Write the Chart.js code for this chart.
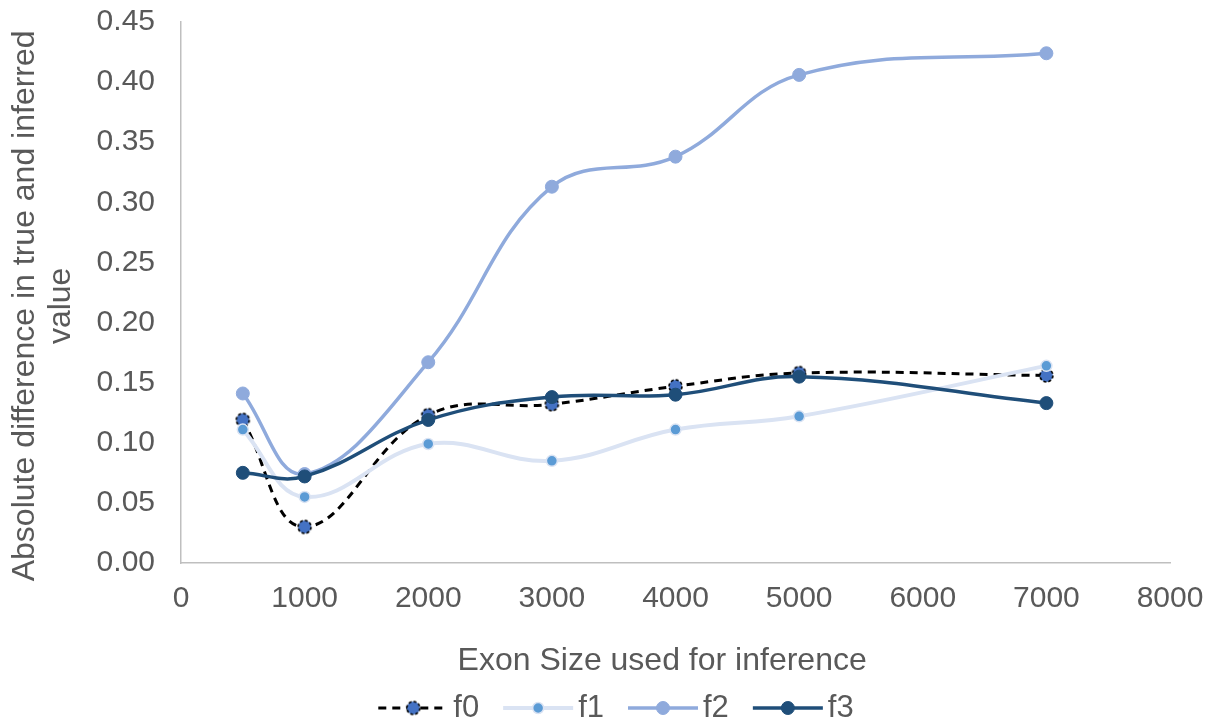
<!DOCTYPE html>
<html>
<head>
<meta charset="utf-8">
<script src="https://cdn.jsdelivr.net/npm/chart.js@4/dist/chart.umd.min.js"></script>
<style>
  html, body { margin: 0; padding: 0; background: #ffffff; }
  #wrap { width: 1216px; height: 723px; }
</style>
</head>
<body>
<div id="wrap"><canvas id="chart" width="1216" height="723"></canvas></div>
<script>
// Exon sizes (x values) shared by every series
const exonSizes = [500, 1000, 2000, 3000, 4000, 5000, 7000];

// Absolute difference between true and inferred value, per feature
const f0 = [0.119, 0.030, 0.123, 0.132, 0.147, 0.158, 0.156];
const f1 = [0.111, 0.055, 0.099, 0.085, 0.111, 0.122, 0.164];
const f2 = [0.141, 0.074, 0.167, 0.313, 0.338, 0.406, 0.424];
const f3 = [0.075, 0.072, 0.119, 0.138, 0.140, 0.155, 0.133];

const seriesNames = ['f0', 'f1', 'f2', 'f3'];

// Axis tick values
const xTickValues = [0, 1000, 2000, 3000, 4000, 5000, 6000, 7000, 8000];
const yTickValues = [0.00, 0.05, 0.10, 0.15, 0.20, 0.25, 0.30, 0.35, 0.40, 0.45];

const TEXT = '#595959';
const FONT = '"Liberation Sans", Arial, Helvetica, sans-serif';

// Round blue marker with a dashed black outline (used by f0)
function dashedMarker(r, fill) {
  const c = document.createElement('canvas');
  const s = Math.ceil(r * 2 + 4);
  c.width = c.height = s;
  const g = c.getContext('2d');
  g.beginPath();
  g.arc(s / 2, s / 2, r, 0, Math.PI * 2);
  g.fillStyle = fill;
  g.fill();
  g.setLineDash([3, 2]);
  g.lineWidth = 1.6;
  g.strokeStyle = '#000000';
  g.stroke();
  return c;
}

function toPoints(values) {
  return values.map((v, i) => ({ x: exonSizes[i], y: v }));
}

const datasets = [
  {
    label: seriesNames[0], data: toPoints(f0),
    borderColor: '#000000', borderWidth: 3, borderDash: [8, 6],
    pointStyle: dashedMarker(6.5, '#4472C4'), pointRadius: 6.5,
    order: 4
  },
  {
    label: seriesNames[1], data: toPoints(f1),
    borderColor: '#DAE3F3', borderWidth: 4,
    pointStyle: 'circle', pointRadius: 5.5,
    pointBackgroundColor: '#5B9BD5', pointBorderColor: '#DAE3F3', pointBorderWidth: 1.5,
    order: 3
  },
  {
    label: seriesNames[2], data: toPoints(f2),
    borderColor: '#8FAADC', borderWidth: 3.5,
    pointStyle: 'circle', pointRadius: 6.5,
    pointBackgroundColor: '#8FAADC', pointBorderColor: '#8FAADC', pointBorderWidth: 1,
    order: 2
  },
  {
    label: seriesNames[3], data: toPoints(f3),
    borderColor: '#1F4E79', borderWidth: 3.5,
    pointStyle: 'circle', pointRadius: 6.5,
    pointBackgroundColor: '#1F4E79', pointBorderColor: '#1F4E79', pointBorderWidth: 1,
    order: 1
  }
];

// Legend drawn below the plot: a line sample with its marker, then the name
const sampleLegend = {
  id: 'sampleLegend',
  afterDraw(chart) {
    const ctx = chart.ctx;
    const sampleW = 70, textGap = 5, itemGap = 24, centerX = 616, y = 708;
    ctx.save();
    ctx.font = '31px ' + FONT;
    const items = chart.data.datasets.map(ds => ({
      ds, w: sampleW + textGap + ctx.measureText(ds.label).width
    }));
    const total = items.reduce((a, it) => a + it.w, 0) + itemGap * (items.length - 1);
    let x = centerX - total / 2;
    items.forEach(({ ds, w }) => {
      ctx.beginPath();
      ctx.setLineDash(ds.borderDash || []);
      ctx.lineWidth = ds.borderWidth;
      ctx.strokeStyle = ds.borderColor;
      ctx.moveTo(x, y);
      ctx.lineTo(x + sampleW, y);
      ctx.stroke();
      ctx.setLineDash([]);
      const mx = x + sampleW / 2;
      if (typeof ds.pointStyle === 'object') {
        const img = ds.pointStyle;
        ctx.drawImage(img, mx - img.width / 2, y - img.height / 2);
      } else {
        ctx.beginPath();
        ctx.arc(mx, y, ds.pointRadius, 0, Math.PI * 2);
        ctx.fillStyle = ds.pointBackgroundColor;
        ctx.fill();
        ctx.lineWidth = ds.pointBorderWidth;
        ctx.strokeStyle = ds.pointBorderColor;
        ctx.stroke();
      }
      ctx.fillStyle = TEXT;
      ctx.textAlign = 'left';
      ctx.textBaseline = 'middle';
      ctx.fillText(ds.label, x + sampleW + textGap, y);
      x += w + itemGap;
    });
    ctx.restore();
  }
};

new Chart(document.getElementById('chart'), {
  type: 'line',
  data: { datasets },
  plugins: [sampleLegend],
  options: {
    responsive: false,
    animation: false,
    devicePixelRatio: 1,
    layout: { padding: { top: 0, right: 46, left: 0, bottom: 0 } },
    elements: {
      line: { tension: 0.4, cubicInterpolationMode: 'default', fill: false }
    },
    plugins: {
      legend: { display: false },
      tooltip: { enabled: false }
    },
    scales: {
      x: {
        type: 'linear',
        min: xTickValues[0],
        max: xTickValues[xTickValues.length - 1],
        afterBuildTicks: s => { s.ticks = xTickValues.map(v => ({ value: v })); },
        afterFit: s => { s.height = 160; s.paddingLeft = 0; s.paddingRight = 0; },
        grid: { display: false, drawTicks: false },
        border: { display: true, color: '#BFBFBF', width: 1.5 },
        ticks: {
          color: TEXT, font: { family: FONT, size: 30 }, padding: 18,
          maxRotation: 0, autoSkip: false,
          callback: v => String(v)
        },
        title: {
          display: true, text: 'Exon Size used for inference   ',
          color: TEXT, font: { family: FONT, size: 32, lineHeight: 1.2 },
          padding: { top: 0, bottom: 43 }
        }
      },
      y: {
        type: 'linear',
        min: yTickValues[0],
        max: yTickValues[yTickValues.length - 1],
        afterBuildTicks: s => { s.ticks = yTickValues.map(v => ({ value: v })); },
        afterFit: s => { s.width = 181; s.paddingTop = 22; s.paddingBottom = 0; },
        grid: { display: false, drawTicks: false },
        border: { display: true, color: '#BFBFBF', width: 1.5 },
        ticks: {
          color: TEXT, font: { family: FONT, size: 30 }, padding: 26,
          autoSkip: false,
          callback: v => Number(v).toFixed(2)
        },
        title: {
          display: true, text: ['Absolute difference in true and inferred   ', 'value   '],
          color: TEXT, font: { family: FONT, size: 32, lineHeight: 1.1 },
          padding: { top: 8, bottom: 0 }
        }
      }
    }
  }
});
</script>
</body>
</html>
